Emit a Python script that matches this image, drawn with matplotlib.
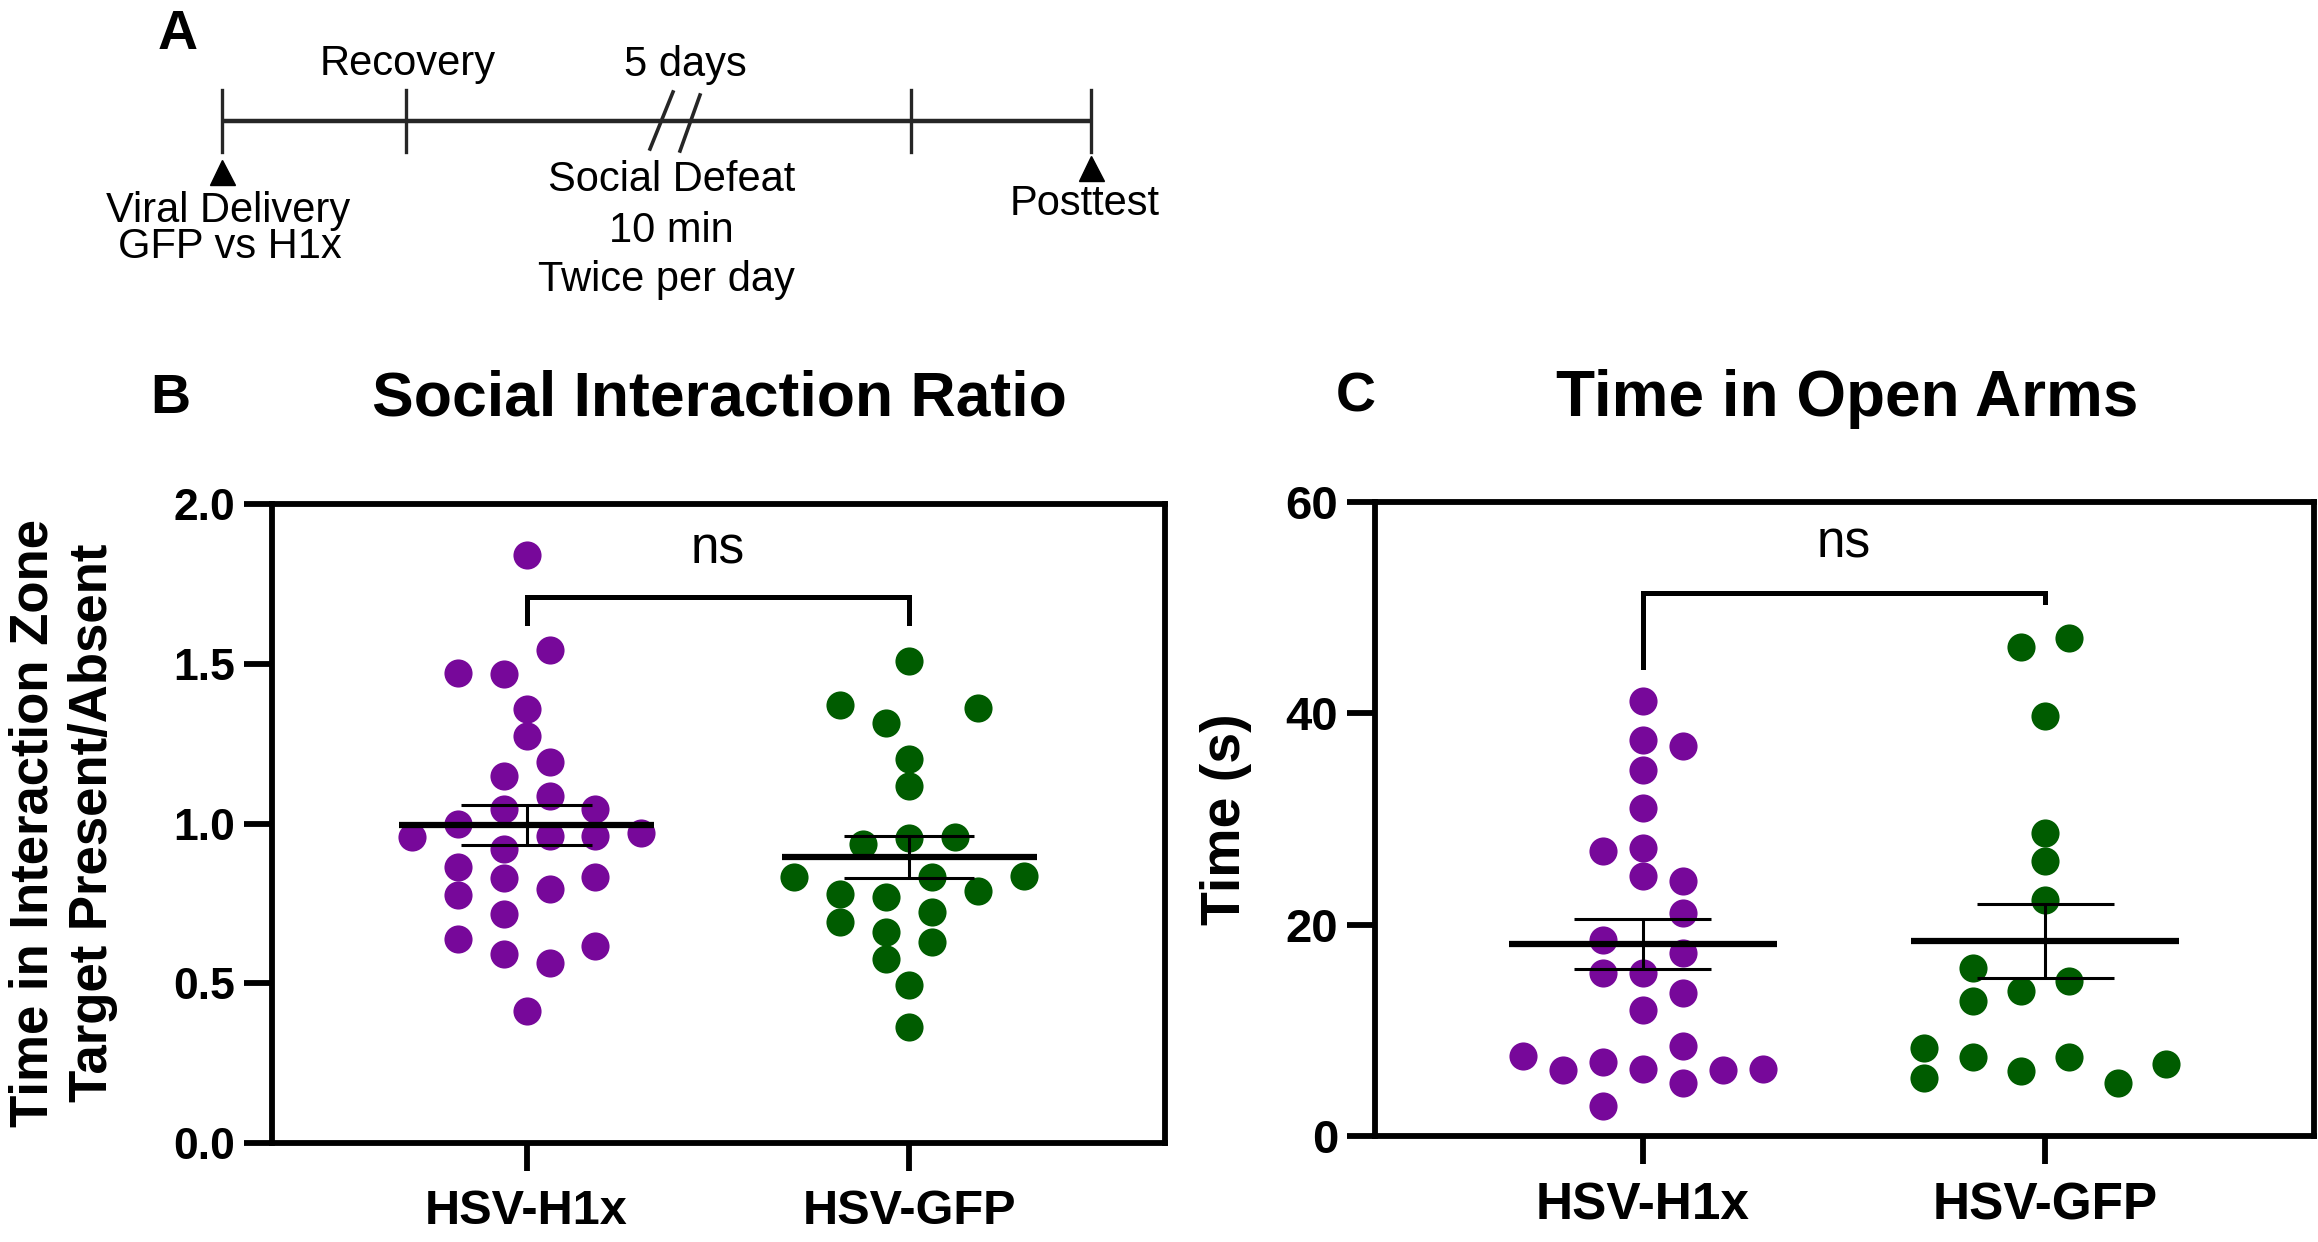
import numpy as np
import matplotlib
matplotlib.use("Agg")
import matplotlib.pyplot as plt

W, H = 2318, 1242
PURPLE = '#77089a'
GREEN = '#005c00'

groups = ['HSV-H1x', 'HSV-GFP']

# B: social interaction ratio (target present / absent)
si_h1x = [1.839, 1.543, 1.471, 1.469, 1.359, 1.273, 1.193, 1.150, 1.087, 1.045,
          1.045, 0.999, 0.957, 0.961, 0.961, 0.971, 0.919, 0.863, 0.828, 0.832,
          0.796, 0.776, 0.716, 0.639, 0.618, 0.593, 0.564, 0.413]
si_gfp = [1.509, 1.371, 1.362, 1.315, 1.203, 1.117, 0.936, 0.954, 0.957, 0.832,
          0.832, 0.835, 0.790, 0.779, 0.769, 0.723, 0.692, 0.660, 0.628, 0.576,
          0.495, 0.362]

# C: time in open arms (s)
oa_h1x = [41.19, 37.52, 36.89, 34.65, 31.07, 26.98, 27.28, 24.58, 24.16, 21.08,
          18.55, 17.29, 15.47, 15.39, 13.49, 11.93, 8.56, 7.59, 6.96, 6.20,
          6.32, 6.24, 6.32, 5.06, 2.82]
oa_gfp = [47.09, 46.29, 39.76, 28.67, 26.05, 22.34, 15.89, 14.67, 13.70, 12.73,
          8.31, 7.46, 7.46, 6.83, 6.11, 5.48, 4.97]

# swarm column of every dot (layout only)
si_h1x_col = [0, 1, -3, -1, 0, 0, 1, -1, 1, -1, 3, -3, -5, 1, 3, 5, -1, -3, -1, 3,
              1, -3, -1, -3, 3, -1, 1, 0]
si_gfp_col = [0, -3, 3, -1, 0, 0, -2, 0, 2, -5, 1, 5, 3, -3, -1, 1, -3, -1, 1, -1,
              0, 0]
oa_h1x_col = [0, 0, 1, 0, 0, -1, 0, 0, 1, 1, -1, 1, -1, 0, 1, 0, 1, -3, -1, -2,
              0, 2, 3, 1, -1]
oa_gfp_col = [1, -1, 0, 0, 0, 0, -3, 1, -1, -3, -5, -3, 1, 5, -1, -5, 3]


def panel(ax, h1x, gfp, cols, steps, ylim, yticks, fmt, bracket, ns_y, tick_fs, lab_fs):
    for i, (vals, col, step, c) in enumerate(zip([h1x, gfp], cols, steps, [PURPLE, GREEN])):
        vals = np.array(vals)
        x = i + np.array(col) * step
        ax.scatter(x, vals, s=410, color=c, linewidths=0, zorder=2)
        m = vals.mean()
        sem = vals.std(ddof=1) / np.sqrt(len(vals))
        ax.hlines(m, i - 0.333, i + 0.333, color='k', lw=4.5, zorder=3)
        ax.vlines(i, m - sem, m + sem, color='k', lw=2.2, zorder=3)
        ax.hlines([m - sem, m + sem], i - 0.17, i + 0.17, color='k', lw=2.2, zorder=3)

    left_leg, top, right_leg = bracket
    ax.plot([0, 0, 1, 1], [left_leg, top, top, right_leg], color='k', lw=3.6,
            solid_joinstyle='miter', zorder=3)
    ax.annotate('ns', xy=(0.5, ns_y), xytext=(0, -9.5), textcoords='offset points',
                ha='center', va='baseline', fontsize=37)

    ax.set_xlim(-0.665, 1.668)
    ax.set_ylim(*ylim)
    ax.set_xticks([0, 1])
    ax.set_xticklabels(groups, fontsize=lab_fs, fontweight='bold')
    ax.set_yticks(yticks)
    ax.set_yticklabels([fmt.format(t) for t in yticks], fontsize=tick_fs, fontweight='bold')
    for s in ax.spines.values():
        s.set_linewidth(4.2)
    ax.tick_params(axis='y', direction='out', length=20, width=4.2, pad=6.5)
    ax.tick_params(axis='x', direction='out', length=20, width=4.2, pad=13)


plt.rcParams['font.family'] = 'Liberation Sans'
fig = plt.figure(figsize=(W / 100, H / 100), dpi=100)

# overlay in pixel coordinates for the timeline, titles and panel letters
ov = fig.add_axes([0, 0, 1, 1], zorder=-1)
ov.set_xlim(0, W)
ov.set_ylim(H, 0)
ov.axis('off')

line_c = '#262626'
ov.plot([222, 1091], [121, 121], color=line_c, lw=3.2, solid_capstyle='butt')
for tx in [222, 406, 911, 1091]:
    ov.plot([tx, tx], [90, 152], color=line_c, lw=2.4)
ov.plot([673, 650], [92, 149], color=line_c, lw=2.6)
ov.plot([700, 680], [95, 151], color=line_c, lw=2.6)
ov.plot([222, 1091], [172, 168], linestyle='none', marker='^', ms=18, color='k')

tl_fs = 30
ov.text(408, 75, 'Recovery', ha='center', va='baseline', fontsize=tl_fs)
ov.text(685, 76, '5 days', ha='center', va='baseline', fontsize=tl_fs)
ov.text(228, 222, 'Viral Delivery', ha='center', va='baseline', fontsize=tl_fs)
ov.text(230, 258, 'GFP vs H1x', ha='center', va='baseline', fontsize=tl_fs)
ov.text(672, 191, 'Social Defeat', ha='center', va='baseline', fontsize=tl_fs)
ov.text(671, 242, '10 min', ha='center', va='baseline', fontsize=tl_fs)
ov.text(666, 291, 'Twice per day', ha='center', va='baseline', fontsize=tl_fs)
ov.text(1085, 215, 'Posttest', ha='center', va='baseline', fontsize=tl_fs)

ov.text(178, 49, 'A', ha='center', va='baseline', fontsize=40, fontweight='bold')
ov.text(170, 413, 'B', ha='center', va='baseline', fontsize=40, fontweight='bold')
ov.text(1356, 411, 'C', ha='center', va='baseline', fontsize=40, fontweight='bold')
ov.text(719, 415, 'Social Interaction Ratio', ha='center', va='baseline', fontsize=45, fontweight='bold')
ov.text(1847, 416, 'Time in Open Arms', ha='center', va='baseline', fontsize=46, fontweight='bold')

ov.text(63, 823, 'Time in Interaction Zone\nTarget Present/Absent', rotation=90,
        ha='center', va='center', fontsize=38, fontweight='bold', linespacing=1.25)
ov.text(1226, 819, 'Time (s)', rotation=90, ha='center', va='center',
        fontsize=40, fontweight='bold')

axB = fig.add_axes([272 / W, 1 - 1143 / H, 893 / W, 639 / H])
panel(axB, si_h1x, si_gfp, [si_h1x_col, si_gfp_col], [0.06, 0.06],
      (0, 2.0), [0, 0.5, 1.0, 1.5, 2.0], '{:.1f}', (1.627, 1.708, 1.627), 1.856, 32, 35)

axC = fig.add_axes([1375 / W, 1 - 1136 / H, 939 / W, 634 / H])
panel(axC, oa_h1x, oa_gfp, [oa_h1x_col, oa_gfp_col], [0.0995, 0.06],
      (0, 60), [0, 20, 40, 60], '{:.0f}', (44.4, 51.4, 50.5), 56.0, 34, 37)

fig.savefig('out.png', dpi=100)
